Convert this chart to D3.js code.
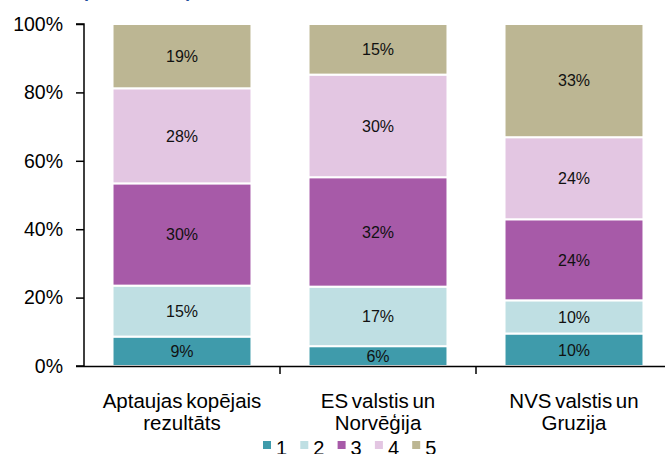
<!DOCTYPE html>
<html><head><meta charset="utf-8">
<script src="https://cdn.jsdelivr.net/npm/d3@7"></script>
<style>body{margin:0;background:#fff}svg{display:block}text{font-family:"Liberation Sans",Arial,sans-serif}</style>
</head><body><svg id="c" width="665" height="454"></svg>
<script>
const categories = [["Aptaujas kopējais","rezultāts"],["ES valstis un","Norvēģija"],["NVS valstis un","Gruzija"]];
const seriesNames = ["1","2","3","4","5"];
const s1 = [8.6, 5.8, 9.5];
const s2 = [14.9, 17.4, 9.7];
const s3 = [29.9, 32.0, 23.7];
const s4 = [27.8, 30.0, 24.0];
const s5 = [18.8, 14.8, 33.1];
const colors = ["#3f9bab","#bfdfe3","#a75aa8","#e3c6e2","#bcb693"];
const yTicks = [0, 20, 40, 60, 80, 100];
const title = "(procentos no respondentiem)";

const series = [s1,s2,s3,s4,s5];
const svg = d3.select("#c");
const keys = categories.map(c => c.join(" "));
const x = d3.scaleBand().domain(keys).range([84, 672]).paddingInner(0.291).paddingOuter(0.1455);
const y = d3.scaleLinear().domain([0,100]).range([366, 24]);

svg.append("text").attr("x",192).attr("y",-3).attr("text-anchor","end")
  .attr("font-size",18).attr("font-weight","bold").attr("fill","#1f4e9e").text(title);

const stackData = keys.map((k,i)=>{const o={key:k}; seriesNames.forEach((s,j)=>o[s]=series[j][i]); return o;});
const stacked = d3.stack().keys(seriesNames)(stackData);

const g = svg.append("g");
stacked.forEach((layer,j)=>{
  const lg = g.append("g");
  lg.selectAll("rect").data(layer).join("rect")
    .attr("x", d=>x(d.data.key)).attr("width", x.bandwidth())
    .attr("y", d=>y(d[1])).attr("height", d=>y(d[0])-y(d[1]))
    .attr("fill", colors[j]).attr("stroke","#fff").attr("stroke-width",2);
  lg.selectAll("text").data(layer).join("text")
    .attr("x", d=>x(d.data.key)+x.bandwidth()/2)
    .attr("y", d=>(y(d[0])+y(d[1]))/2)
    .attr("dy","0.36em").attr("text-anchor","middle").attr("font-size",16).attr("fill","#111")
    .text(d=>Math.round(d[1]-d[0])+"%");
});

// y axis
const ya = svg.append("g").attr("transform","translate(84,0)")
  .call(d3.axisLeft(y).tickValues(yTicks).tickFormat(d=>d+"%").tickSize(8).tickPadding(13));
ya.select(".domain").attr("stroke","#000").attr("stroke-width",1.5).attr("d","M-8,24H0V366H-8");
ya.selectAll(".tick line").attr("stroke","#000").attr("stroke-width",1.5);
ya.selectAll(".tick text").attr("font-size",19.5).attr("fill","#000").attr("font-family","'Liberation Sans',Arial,sans-serif");

// x axis
svg.append("line").attr("x1",84).attr("x2",672).attr("y1",366.5).attr("y2",366.5).attr("stroke","#000").attr("stroke-width",1.5);
const step = x.step();
svg.selectAll(".xt").data(keys).join("line").attr("class","xt")
  .attr("x1",(d,i)=>84+step*(i+1)).attr("x2",(d,i)=>84+step*(i+1))
  .attr("y1",366).attr("y2",374).attr("stroke","#000").attr("stroke-width",1.5);
svg.selectAll(".xl").data(categories).join("text").attr("class","xl")
  .attr("x",(d,i)=>x(keys[i])+x.bandwidth()/2)
  .attr("text-anchor","middle").attr("font-size",20.5).attr("fill","#000").attr("word-spacing","-2")
  .each(function(d){
    const t=d3.select(this);
    d.forEach((line,k)=>t.append("tspan").attr("x",t.attr("x")).attr("y",408+k*21.5).text(line));
  });

// legend
const lg = svg.append("g");
seriesNames.forEach((s,i)=>{
  const lx = 263 + i*37.3;
  lg.append("rect").attr("x",lx).attr("y",441).attr("width",8).attr("height",8).attr("fill",colors[i]);
  lg.append("text").attr("x",lx+13).attr("y",455).attr("font-size",20).attr("fill","#000").text(s);
});
</script></body></html>
